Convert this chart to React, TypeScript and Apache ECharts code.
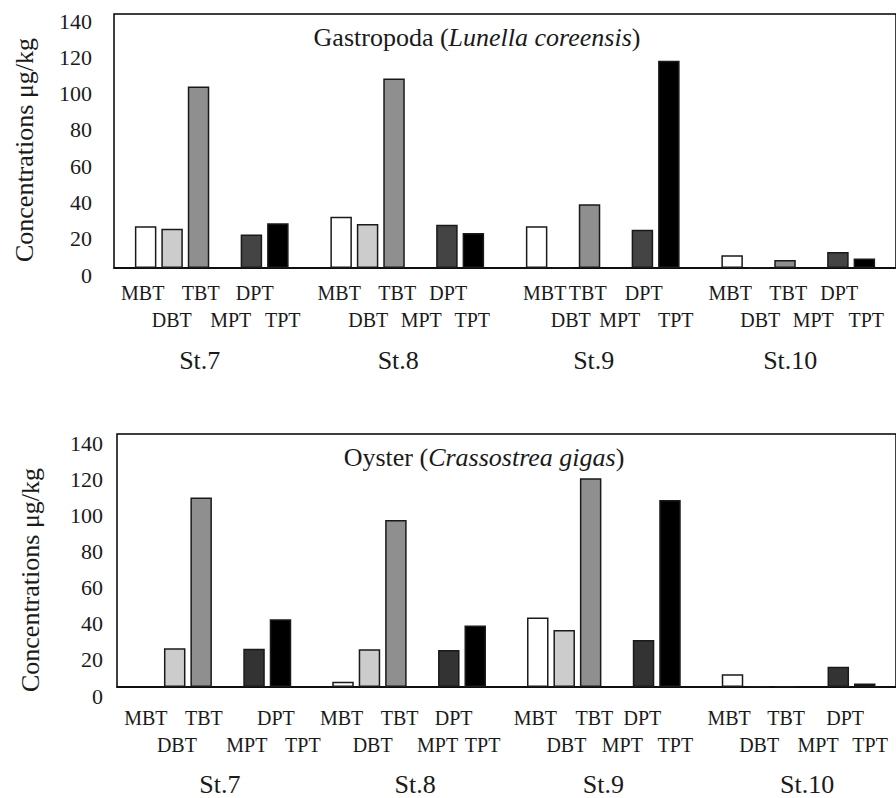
import React, { useEffect, useRef } from 'react';
import * as echarts from 'echarts';

const STATIONS = ['St.7', 'St.8', 'St.9', 'St.10'];
const COMPOUNDS = ['MBT', 'DBT', 'TBT', 'MPT', 'DPT', 'TPT'];
const Y_MIN = 0;
const Y_MAX = 140;
const Y_STEP = 20;

// Gastropoda (Lunella coreensis), µg/kg
const G_MBT = [23.0, 28.3, 23.0, 7.0];
const G_DBT = [21.7, 24.3, 0.3, 0.3];
const G_TBT = [100.0, 104.4, 35.1, 4.4];
const G_MPT = [null, null, null, null];
const G_DPT = [18.4, 23.9, 21.1, 8.8];
const G_TPT = [24.6, 19.3, 114.3, 5.3];

// Oyster (Crassostrea gigas), µg/kg
const O_MBT = [null, 2.9, 38.4, 7.0];
const O_DBT = [21.4, 20.9, 31.5, 0.3];
const O_TBT = [104.8, 92.4, 115.5, 0.3];
const O_MPT = [null, null, null, null];
const O_DPT = [21.2, 20.5, 26.0, 11.2];
const O_TPT = [37.5, 34.1, 103.5, 2.0];

const G_SERIES = [G_MBT, G_DBT, G_TBT, G_MPT, G_DPT, G_TPT];
const O_SERIES = [O_MBT, O_DBT, O_TBT, O_MPT, O_DPT, O_TPT];

const G_COLORS = ['#ffffff', '#cccccc', '#8f8f8f', '#666666', '#444444', '#000000'];
const O_COLORS = ['#ffffff', '#cccccc', '#8f8f8f', '#666666', '#333333', '#000000'];

const FONT = 'Liberation Serif';
const INK = '#1a1a1a';

// label layout (offsets from each station's band centre)
const G_LABEL_DX = [
  [-69, -40, -11, 19, 43, 71],
  [-68, -39, -10, 14, 41, 65],
  [-58, -32, -15, 17, 41, 73],
  [-68, -38, -10, 15, 41, 68],
];
const O_LABEL_DX = [
  [-68.5, -37.5, -10.5, 32.5, 61.5, 88.5],
  [-67.5, -36.5, -9.5, 28.5, 44.5, 73.5],
  [-68.5, -37.5, -9.5, 18.5, 38.5, 71.5],
  [-69.5, -39.5, -12.5, 19.5, 46.5, 71.5],
];
const G_STATION_DX = [-12, -9, -9, -8];
const O_STATION_DX = [5.5, 6, -0.5, 8.5];

export default function App() {
  const ref = useRef<HTMLDivElement>(null);

  useEffect(() => {
    if (!ref.current) return;
    const chart = echarts.init(ref.current, null, { renderer: 'svg' });

    const grids = [
      { left: 114, top: 14, width: 792, height: 254 },
      { left: 117, top: 434, width: 788, height: 253 },
    ];

    const yAxisFor = (gi: number, margin: number, shift: number) => ({
      type: 'value',
      gridIndex: gi,
      min: Y_MIN,
      max: Y_MAX,
      interval: Y_STEP,
      axisLine: { show: false },
      axisTick: { show: false },
      splitLine: { show: false },
      axisLabel: {
        fontFamily: FONT,
        fontSize: 22,
        color: INK,
        margin,
        verticalAlign: 'top',
        lineHeight: shift * 2,
        showMinLabel: true,
        showMaxLabel: true,
      },
    });

    const xAxisFor = (gi: number) => ({
      type: 'category',
      gridIndex: gi,
      data: STATIONS,
      axisLine: { show: true, lineStyle: { color: '#000', width: 1.5 } },
      axisTick: { show: false },
      axisLabel: { show: false },
    });

    const makeSeries = (gi: number, data: (number | null)[][], colors: string[]) =>
      COMPOUNDS.map((name, k) => ({
        type: 'bar',
        name,
        xAxisIndex: gi,
        yAxisIndex: gi,
        data: data[k],
        barWidth: 21.5,
        barGap: '23%',
        itemStyle: { color: colors[k], borderColor: INK, borderWidth: 1.5 },
      }));

    chart.setOption({
      animation: false,
      backgroundColor: '#ffffff',
      grid: grids.map((g) => ({
        ...g,
        show: true,
        borderColor: '#000',
        borderWidth: 1.5,
        backgroundColor: 'transparent',
      })),
      xAxis: [xAxisFor(0), xAxisFor(1)],
      yAxis: [yAxisFor(0, 22, 7), yAxisFor(1, 14, 9)],
      series: [...makeSeries(0, G_SERIES, G_COLORS), ...makeSeries(1, O_SERIES, O_COLORS)],
    });

    const graphics: any[] = [];
    const txt = (x: number, y: number, text: string, size: number, extra: any = {}) => ({
      type: 'text',
      x,
      y,
      silent: true,
      ...extra,
      style: {
        text,
        fontFamily: FONT,
        fontSize: size,
        fill: INK,
        align: 'center',
        verticalAlign: 'middle',
        textAlign: 'center',
        textVerticalAlign: 'middle',
      },
    });

    const panels = [
      { axis: 0, dx: G_LABEL_DX, sdx: G_STATION_DX, rows: [293, 320, 360] },
      { axis: 1, dx: O_LABEL_DX, sdx: O_STATION_DX, rows: [718, 745, 784] },
    ];
    panels.forEach((p) => {
      STATIONS.forEach((st, i) => {
        const cx = chart.convertToPixel({ xAxisIndex: p.axis }, st) as number;
        COMPOUNDS.forEach((c, k) => {
          graphics.push(txt(cx + p.dx[i][k], k % 2 === 0 ? p.rows[0] : p.rows[1], c, 20));
        });
        graphics.push(txt(cx + p.sdx[i], p.rows[2], st, 26));
      });
    });

    const richTitle = (x: number, y: number, plain: string, italic: string) => ({
      type: 'text',
      x,
      y,
      silent: true,
      style: {
        text: `{n|${plain} (}{i|${italic}}{n|)}`,
        fontFamily: FONT,
        fontSize: 26,
        fill: INK,
        align: 'center',
        verticalAlign: 'middle',
        textAlign: 'center',
        textVerticalAlign: 'middle',
        rich: {
          n: { fontFamily: FONT, fontSize: 26, fill: INK, fontStyle: 'normal' },
          i: { fontFamily: FONT, fontSize: 26, fill: INK, fontStyle: 'italic' },
        },
      },
    });
    graphics.push(richTitle(477, 37, 'Gastropoda', 'Lunella coreensis'));
    graphics.push(richTitle(484, 457, 'Oyster', 'Crassostrea gigas'));

    graphics.push(txt(24, 150, 'Concentrations μg/kg', 26, { rotation: Math.PI / 2 }));
    graphics.push(txt(30, 580, 'Concentrations μg/kg', 26, { rotation: Math.PI / 2 }));

    chart.setOption({ graphic: graphics });

    return () => chart.dispose();
  }, []);

  return (
    <div
      ref={ref}
      style={{ position: 'fixed', left: 0, top: 0, width: 896, height: 798, background: '#fff' }}
    />
  );
}
